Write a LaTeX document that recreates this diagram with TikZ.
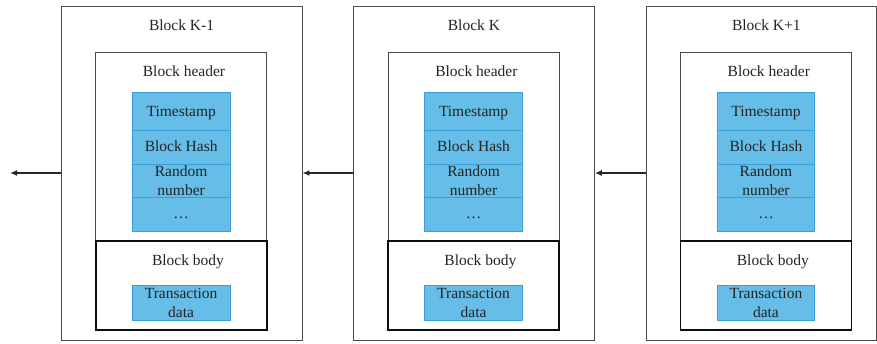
\documentclass[tikz,border=0pt]{standalone}
\usepackage{fontspec}
\setmainfont{Liberation Serif}
\usetikzlibrary{arrows.meta,fit}
\definecolor{cellfill}{RGB}{102,190,232}
\definecolor{celldraw}{RGB}{55,160,218}
\definecolor{txt}{RGB}{35,35,35}
\definecolor{framec}{RGB}{75,75,75}
\tikzset{
  outerbox/.style={draw=framec, line width=0.9pt, inner sep=0pt},
  headbox/.style={draw=framec, line width=0.9pt, inner sep=0pt},
  bodybox/.style={draw=black!95, line width=1.8pt, inner sep=0pt},
  cell/.style={draw=celldraw, fill=cellfill, line width=0.8pt, inner sep=0pt},
  lbl/.style={anchor=base, inner sep=0pt, text=txt},
  lbl2/.style={anchor=center, inner sep=0pt, text=txt, align=center},
  linkarrow/.style={draw=black!85, line width=1.4pt, -{Latex[length=7pt,width=6pt]}}
}
\newcommand\myblock[4]{%
  \begin{scope}[xshift=#2]
    \node[outerbox, fit={(61.5,6)(#4,340)}] (out#1) {};
    \node[headbox, fit={(95.7,52.3)(266.7,241.3)}] (head#1) {};
    \node[bodybox, fit={(95.7,241.3)(266.7,330)}] (body#1) {};
    \node[cell, fit={(132.3,92.7)(230,130)}] (ts#1) {};
    \node[cell, fit={(132.3,130)(230,164)}] (bh#1) {};
    \node[cell, fit={(132.3,164)(230,197.3)}] (rn#1) {};
    \node[cell, fit={(132.3,197.3)(230,231)}] (dots#1) {};
    \node[cell, fit={(132.3,285)(230,320)}] (tx#1) {};
    \node[lbl] (title#1) at (181.5,30) {#3};
    \node[lbl] (headt#1) at (184,76.7) {Block header};
    \node[lbl] (bodyt#1) at (188,265) {Block body};
    \node[lbl] (tst#1) at (181.2,116) {Timestamp};
    \node[lbl] (bht#1) at (181.2,151) {Block Hash};
    \node[lbl2] (rnt#1) at (rn#1.center) {Random\\number};
    \node[lbl] (dotst#1) at (181.2,218.3) {\dots};
    \node[lbl2] (txt#1) at (tx#1.center) {Transaction\\data};
  \end{scope}}
\begin{document}
\begin{tikzpicture}[x=1pt,y=-1pt, font=\fontsize{15.5}{19}\selectfont]
  \useasboundingbox (0,0) rectangle (877,343);
  \myblock{A}{0pt}{Block K-1}{302}
  \myblock{B}{292.4pt}{Block K}{302}
  \myblock{C}{584.8pt}{Block K+1}{291.5}
  \coordinate (leftend) at (10,173);
  \draw[linkarrow] (outA.west) -- (leftend);
  \draw[linkarrow] (outB.west) -- (outA.east);
  \draw[linkarrow] (outC.west) -- (outB.east);
\end{tikzpicture}
\end{document}
